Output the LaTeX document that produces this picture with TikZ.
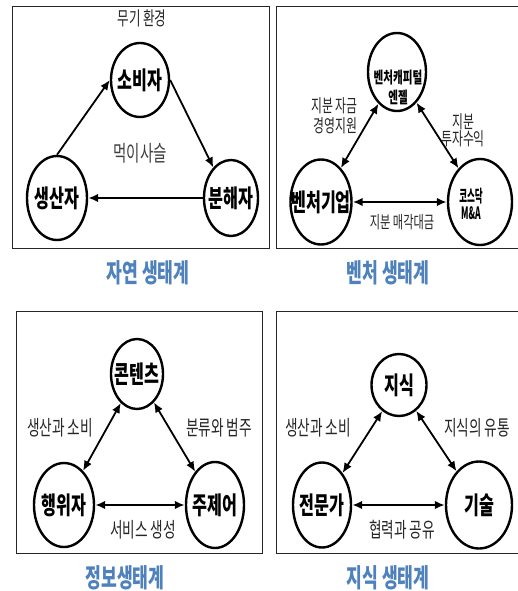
\documentclass[tikz,border=0pt]{standalone}
\usepackage{fontspec}
\setmainfont{Noto Sans CJK KR}[FakeStretch=0.66]
\newfontfamily\narrowkr{Noto Sans CJK KR}[FakeStretch=0.5]
\usetikzlibrary{shapes.geometric,arrows.meta}
\definecolor{capblue}{RGB}{79,129,189}
\tikzset{
  panel/.style={draw=black!85, line width=1pt},
  ell/.style={draw, ellipse, line width=2.4pt, inner sep=0pt},
  ntxt/.style={font=\fontsize{24.5}{26}\selectfont\bfseries},
  lbl/.style={text=black!85, font=\fontsize{20.7}{22}\selectfont},
  lblsm/.style={text=black!85, font=\fontsize{18}{19.5}\selectfont},
  captxt/.style={text=capblue, font=\fontsize{26}{28}\selectfont\bfseries},
  tip/.tip={Latex[length=10pt,width=8.5pt]},
  oneway/.style={-tip, line width=1.8pt},
  twoway/.style={tip-tip, line width=1.8pt},
  heavy/.style={line width=2.6pt}
}
\begin{document}
\begin{tikzpicture}[x=1pt,y=-1pt]
\fill[white] (0,0) rectangle (518,591);
\useasboundingbox (0,0) rectangle (518,591);
% panels
\draw[panel] (12.5,6.5) rectangle (269,248);
\draw[panel] (276,6.5) rectangle (525,248);
\draw[panel] (16,311) rectangle (262,553);
\draw[panel] (276,311) rectangle (525,553);

% ---- Panel 1: natural ecosystem
\node[ell, minimum width=58pt, minimum height=74pt] (so) at (140,80) {};
\node[ell, minimum width=60pt, minimum height=84pt] (sa) at (57,198) {};
\node[ell, minimum width=54pt, minimum height=76pt] (bu) at (231,198) {};
\node[ntxt] (sot) at (so) {소비자};
\node[ntxt] (sat) at (sa) {생산자};
\node[ntxt] (but) at (bu) {분해자};
\node[lbl, font=\fontsize{19}{21}\selectfont] (mugi) at (142,18) {무기 환경};
\node[lbl, text=black!75, font=\fontsize{22}{24}\selectfont] (meok) at (140,153) {먹이사슬};
\draw[oneway] (sa.north) -- (so.west);
\draw[oneway] (so.east) -- (bu.120);
\draw[oneway, heavy] (bu) -- (sa);
\node[captxt] (c1) at (148,273) {자연 생태계};

% ---- Panel 2: venture ecosystem
\node[ell, minimum width=58pt, minimum height=78pt] (vc) at (397,72) {};
\node[ell, minimum width=61pt, minimum height=85pt] (ve) at (321,202) {};
\node[ell, minimum width=64pt, minimum height=86pt] (ko) at (480,202) {};
\node[align=center, font=\fontsize{16}{20}\selectfont\bfseries] (vct) at (398,87) {벤처캐피털\\엔젤};
\node[ntxt] (vet) at (ve) {벤처기업};
\node[align=center, font=\narrowkr\fontsize{17}{17}\selectfont\bfseries] (kot) at (471,204) {코스닥\\M\&A};
\node[lblsm, align=right, anchor=east] (l21) at (361,116) {지분 자금\\경영지원};
\node[lblsm, align=center, font=\fontsize{18}{17}\selectfont] (l22) at (463,130) {지분\\투자수익};
\node[lblsm, font=\fontsize{17}{19}\selectfont] (l23) at (402,222) {지분 매각대금};
\draw[twoway] (vc) -- (ve);
\draw[twoway] (vc) -- (ko);
\draw[twoway, heavy] (ve) -- (ko);
\node[captxt] (c2) at (388,273) {벤처 생태계};

% ---- Panel 3: information ecosystem
\node[ell, minimum width=52pt, minimum height=70pt] (ct) at (137,374) {};
\node[ell, minimum width=60pt, minimum height=84pt] (ha) at (64,505) {};
\node[ell, minimum width=58pt, minimum height=86pt] (ju) at (215,505) {};
\node[ntxt] (ctt) at (ct) {콘텐츠};
\node[ntxt] (hat) at (ha) {행위자};
\node[ntxt] (jut) at (ju) {주제어};
\node[lbl] (l31) at (60,428) {생산과 소비};
\node[lbl] (l32) at (219,428) {분류와 범주};
\node[lbl] (l33) at (143,530) {서비스 생성};
\draw[twoway] (ct) -- (ha);
\draw[twoway] (ct) -- (ju);
\draw[twoway, heavy] (ha) -- (ju);
\node[captxt] (c3) at (125,578) {정보생태계};

% ---- Panel 4: knowledge ecosystem
\node[ell, minimum width=55pt, minimum height=62pt] (ji) at (399,385) {};
\node[ell, minimum width=58pt, minimum height=85pt] (je) at (322,505) {};
\node[ell, minimum width=66pt, minimum height=87pt] (gi) at (479,505) {};
\node[ntxt] (jit) at (ji) {지식};
\node[ntxt] (jet) at (je) {전문가};
\node[ntxt] (git) at (gi) {기술};
\node[lbl] (l41) at (318,428) {생산과 소비};
\node[lbl] (l42) at (477,428) {지식의 유통};
\node[lbl] (l43) at (402,530) {협력과 공유};
\draw[twoway] (ji) -- (je);
\draw[twoway] (ji) -- (gi);
\draw[twoway, heavy] (je) -- (gi);
\node[captxt] (c4) at (388,578) {지식 생태계};
\end{tikzpicture}
\end{document}
